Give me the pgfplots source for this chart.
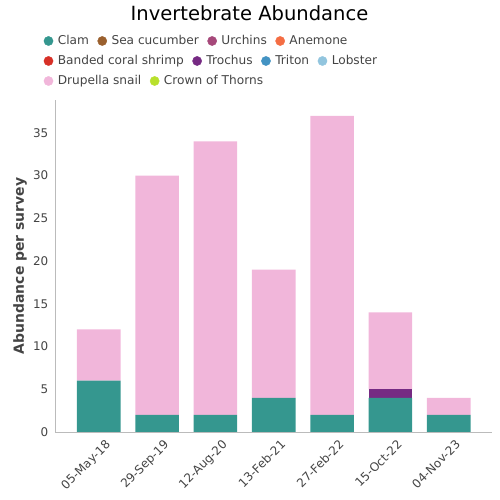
\documentclass[border=0pt]{standalone}
\usepackage{fontspec}
\setmainfont{DejaVu Sans}
\usepackage{pgfplots}
\pgfplotsset{compat=1.18}
\definecolor{clam}{HTML}{35978F}
\definecolor{seacuc}{HTML}{9A602E}
\definecolor{urchin}{HTML}{A6487A}
\definecolor{anemone}{HTML}{F46D43}
\definecolor{shrimp}{HTML}{D73027}
\definecolor{trochus}{HTML}{762A83}
\definecolor{triton}{HTML}{4393C3}
\definecolor{lobster}{HTML}{92C5DE}
\definecolor{drupella}{HTML}{F1B6DA}
\definecolor{cot}{HTML}{B8E02C}
\definecolor{txt}{HTML}{444444}
\definecolor{axl}{HTML}{BBBBBB}
\pgfplotsset{
  rowlegend/.style={
    hide axis, scale only axis, width=500bp, height=500bp,
    xmin=0, xmax=1, ymin=0, ymax=1, at={(0bp,0bp)}, anchor=south west,
    legend columns=-1,
    legend style={draw=none, fill=none, inner sep=0pt, anchor=west,
      at={(axis description cs:0.087,#1)},
      font=\fontsize{12.2}{14}\selectfont, text=txt,
      nodes={inner sep=0pt, anchor=west},
      /tikz/every even column/.append style={column sep=8.5bp},
      /tikz/every odd column/.append style={column sep=4.5bp}},
  },
  dot/.style={legend image code/.code={\fill[#1] (0bp,0bp) circle (4.6bp);}},
}
\begin{document}
\begin{tikzpicture}
\useasboundingbox (0,0) rectangle (500bp,500bp);
\node[font=\fontsize{19.6}{22}\selectfont, text=black] at (249.5bp,487bp) {Invertebrate Abundance};
\begin{axis}[
  at={(55bp,68bp)}, anchor=south west,
  scale only axis, width=437.5bp, height=332bp,
  ybar stacked, bar width=0.746,
  xmin=-0.75, xmax=6.75, ymin=0, ymax=38.85,
  xtick={0,...,6},
  xticklabels={05-May-18,29-Sep-19,12-Aug-20,13-Feb-21,27-Feb-22,15-Oct-22,04-Nov-23},
  ytick={0,5,...,35},
  axis x line*=bottom, axis y line*=left,
  axis line style={axl, line width=0.8pt},
  major tick length=0pt,
  tick style={draw=none},
  /pgf/number format/assume math mode=true,
  ticklabel style={font=\fontsize{12}{14}\selectfont, text=txt},
  yticklabel style={inner sep=0pt, xshift=-6.5bp},
  xticklabel style={rotate=45, anchor=north east, inner sep=0pt, xshift=-0.5bp, yshift=-9bp},
  ylabel={Abundance per survey},
  every axis y label/.style={at={(axis description cs:-0.08,0.5)}, rotate=90, anchor=center,
    font=\bfseries\fontsize{14}{16}\selectfont, text=txt},
]
\addplot[fill=clam, draw=none] coordinates {(0,6) (1,2) (2,2) (3,4) (4,2) (5,4) (6,2)};
\addplot[fill=trochus, draw=none] coordinates {(0,0) (1,0) (2,0) (3,0) (4,0) (5,1) (6,0)};
\addplot[fill=drupella, draw=none] coordinates {(0,6) (1,28) (2,32) (3,15) (4,35) (5,9) (6,2)};
\end{axis}
\begin{axis}[rowlegend=0.918]
\addlegendimage{dot=clam}\addlegendentry{Clam}
\addlegendimage{dot=seacuc}\addlegendentry{Sea cucumber}
\addlegendimage{dot=urchin}\addlegendentry{Urchins}
\addlegendimage{dot=anemone}\addlegendentry{Anemone}
\end{axis}
\begin{axis}[rowlegend=0.878]
\addlegendimage{dot=shrimp}\addlegendentry{Banded coral shrimp}
\addlegendimage{dot=trochus}\addlegendentry{Trochus}
\addlegendimage{dot=triton}\addlegendentry{Triton}
\addlegendimage{dot=lobster}\addlegendentry{Lobster}
\end{axis}
\begin{axis}[rowlegend=0.838]
\addlegendimage{dot=drupella}\addlegendentry{Drupella snail}
\addlegendimage{dot=cot}\addlegendentry{Crown of Thorns}
\end{axis}
\end{tikzpicture}
\end{document}
